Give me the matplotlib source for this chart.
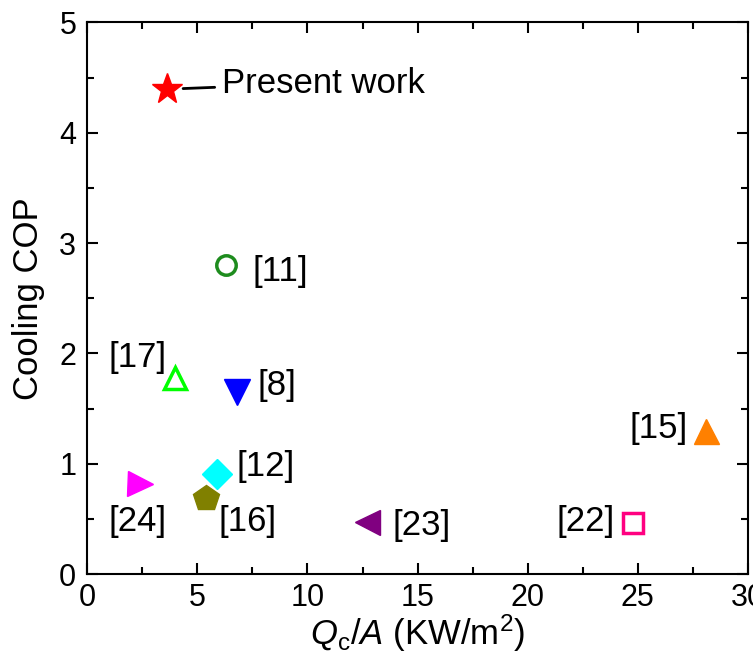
import matplotlib.pyplot as plt
from matplotlib.ticker import MultipleLocator

plt.rcParams['font.family'] = ['Liberation Sans', 'DejaVu Sans']
plt.rcParams['mathtext.fontset'] = 'custom'
plt.rcParams['mathtext.rm'] = 'Liberation Sans'
plt.rcParams['mathtext.it'] = 'Liberation Sans:italic'

# data
refs = ['Present work', '[11]', '[17]', '[8]', '[15]', '[12]', '[16]', '[24]', '[23]', '[22]']
qc_a = [3.6, 6.3, 4.0, 6.8, 28.1, 5.9, 5.4, 2.4, 12.7, 24.8]
cop = [4.40, 2.80, 1.78, 1.65, 1.30, 0.91, 0.69, 0.82, 0.47, 0.46]
markers = ['*', 'o', '^', 'v', '^', 'D', 'p', '>', '<', 's']
colors = ['#ff0000', '#1e8c1e', '#00ff00', '#0000ff', '#ff8000', '#00ffff',
          '#808000', '#ff00ff', '#800080', '#ff0080']
hollow = [False, True, True, False, False, False, False, False, False, True]
sizes = [23, 14, 16, 19, 18, 15, 19, 18, 18, 14]
# label text centres (data units)
lab_x = [None, 8.76, 2.3, 8.62, 25.96, 8.08, 7.3, 2.27, 15.2, 22.65]
lab_y = [None, 2.74, 1.96, 1.71, 1.32, 0.98, 0.48, 0.48, 0.44, 0.48]

fig, ax = plt.subplots(figsize=(7.53, 6.57), dpi=100)
fig.subplots_adjust(left=0.116, right=0.993, top=0.966, bottom=0.126)

for i in range(len(refs)):
    if hollow[i]:
        ax.plot(qc_a[i], cop[i], marker=markers[i], ms=sizes[i], mfc='none',
                mec=colors[i], mew=2.5, linestyle='none', zorder=3)
    else:
        ax.plot(qc_a[i], cop[i], marker=markers[i], ms=sizes[i], color=colors[i],
                mec=colors[i], linestyle='none', zorder=3)
    if lab_x[i] is not None:
        ax.text(lab_x[i], lab_y[i], refs[i], fontsize=25, ha='center', va='center')

ax.annotate('Present work', xy=(qc_a[0] + 0.75, cop[0]), xytext=(6.1, cop[0] + 0.05),
            fontsize=25, va='center', ha='left',
            arrowprops=dict(arrowstyle='-', color='black', lw=2, shrinkA=3, shrinkB=0))

ax.set_xlim(0, 30)
ax.set_ylim(0, 5)
ax.xaxis.set_major_locator(MultipleLocator(5))
ax.xaxis.set_minor_locator(MultipleLocator(2.5))
ax.yaxis.set_major_locator(MultipleLocator(1))
ax.yaxis.set_minor_locator(MultipleLocator(0.5))
ax.tick_params(which='both', direction='in', top=True, right=True, labelsize=22, width=1.5)
ax.tick_params(which='major', length=8)
ax.tick_params(which='minor', length=5)
ax.tick_params(axis='y', pad=8)
ax.tick_params(axis='x', pad=6)
for sp in ax.spines.values():
    sp.set_linewidth(1.5)

ax.set_xlabel(r'$Q_\mathrm{c}/A$ (KW/m$^2$)', fontsize=25, labelpad=0)
ax.set_ylabel('Cooling COP', fontsize=25, labelpad=10)

plt.savefig('out.png')
